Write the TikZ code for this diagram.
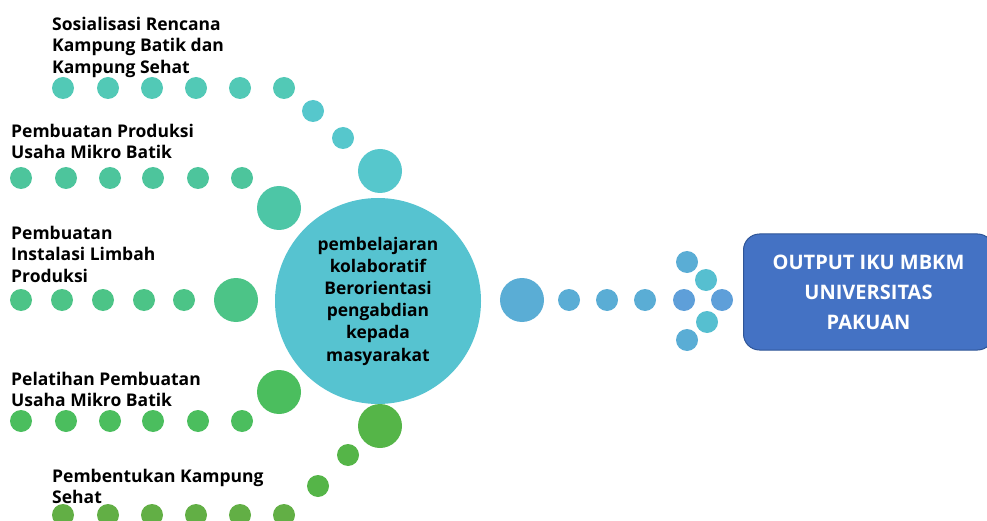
\documentclass[tikz,border=0pt]{standalone}
\usepackage{fontspec}
\setmainfont{Open Sans}
\definecolor{rA}{HTML}{52C9B6}
\definecolor{rAb}{HTML}{56C7CC}
\definecolor{rB}{HTML}{4DC59C}
\definecolor{rBb}{HTML}{4DC6A6}
\definecolor{rC}{HTML}{4CC487}
\definecolor{rD}{HTML}{4BBE5E}
\definecolor{rE}{HTML}{62AF45}
\definecolor{rEb}{HTML}{55B548}
\definecolor{hub}{HTML}{56C3D0}
\definecolor{rF}{HTML}{5AADD5}
\definecolor{rG}{HTML}{5E9FD9}
\definecolor{rH}{HTML}{56BFD0}
\definecolor{boxblue}{HTML}{4472C4}
\definecolor{boxedge}{HTML}{2F5597}
\tikzset{
  dot/.style={circle, inner sep=0pt, minimum size=22pt, draw=none},
  bigdot/.style={circle, inner sep=0pt, minimum size=44pt, draw=none},
  lbl/.style={anchor=north west, inner sep=0pt, align=left, font=\fontsize{17.5}{21.5}\selectfont\bfseries, text=black},
}
\begin{document}
\begin{tikzpicture}[x=1pt,y=-1pt]
\useasboundingbox (0,0) rectangle (987,521);
% row 1
\foreach \i/\x in {1/63,2/108,3/152,4/196,5/240,6/284}{\node[dot, fill=rA] (a\i) at (\x,88) {};}
\node[dot, fill=rAb] (a7) at (313,111) {};
\node[dot, fill=rAb] (a8) at (343,138) {};
\node[bigdot, fill=rAb] (a9) at (380,171) {};
\node[lbl] (la) at (52,17) {Sosialisasi Rencana\\Kampung Batik dan\\Kampung Sehat};
% row 2
\foreach \i/\x in {1/21,2/66,3/110,4/153,5/198,6/242}{\node[dot, fill=rB] (b\i) at (\x,178) {};}
\node[bigdot, fill=rBb] (b7) at (279,208) {};
\node[lbl] (lb) at (11,124) {Pembuatan Produksi\\Usaha Mikro Batik};
% row 3
\foreach \i/\x in {1/21,2/62,3/103,4/144,5/184}{\node[dot, fill=rC] (c\i) at (\x,300) {};}
\node[bigdot, fill=rC] (c6) at (236,300) {};
\node[lbl] (lc) at (11,226) {Pembuatan\\Instalasi Limbah\\Produksi};
% row 4
\foreach \i/\x in {1/21,2/66,3/110,4/153,5/198,6/242}{\node[dot, fill=rD] (d\i) at (\x,421) {};}
\node[bigdot, fill=rD] (d7) at (279,392) {};
\node[lbl] (ld) at (11,372) {Pelatihan Pembuatan\\Usaha Mikro Batik};
% row 5
\foreach \i/\x in {1/63,2/108,3/152,4/196,5/240,6/284}{\node[dot, fill=rE] (e\i) at (\x,515) {};}
\node[dot, fill=rEb] (e7) at (318,486) {};
\node[dot, fill=rEb] (e8) at (348,455) {};
\node[bigdot, fill=rEb] (e9) at (380,426) {};
\node[lbl] (le) at (52,469) {Pembentukan Kampung\\Sehat};
% hub
\node[circle, fill=hub, minimum size=206pt, inner sep=0pt, align=center,
  font=\fontsize{17.4}{22.2}\selectfont\bfseries] (hub) at (378,301)
  {pembelajaran\\kolaboratif\\Berorientasi\\pengabdian\\kepada\\masyarakat};
% right
\node[bigdot, fill=rF] (f1) at (522,300) {};
\node[dot, fill=rF] (f2) at (569,300) {};
\node[dot, fill=rF] (f3) at (607,300) {};
\node[dot, fill=rF] (f4) at (645,300) {};
\node[dot, fill=rG] (f5) at (684,300) {};
\node[dot, fill=rG] (f6) at (722,300) {};
\node[dot, fill=rF] (g1) at (687,262) {};
\node[dot, fill=rH] (g2) at (706,280) {};
\node[dot, fill=rH] (g3) at (707,322) {};
\node[dot, fill=rF] (g4) at (687,340) {};
% box
\node[draw=boxedge, line width=1pt, fill=boxblue, rounded corners=16pt, minimum width=250pt, minimum height=116pt,
  anchor=west, text=white, align=center, font=\fontsize{20}{30}\selectfont\bfseries] (out) at (743,292)
  {OUTPUT IKU MBKM\\UNIVERSITAS\\PAKUAN};
\end{tikzpicture}
\end{document}
